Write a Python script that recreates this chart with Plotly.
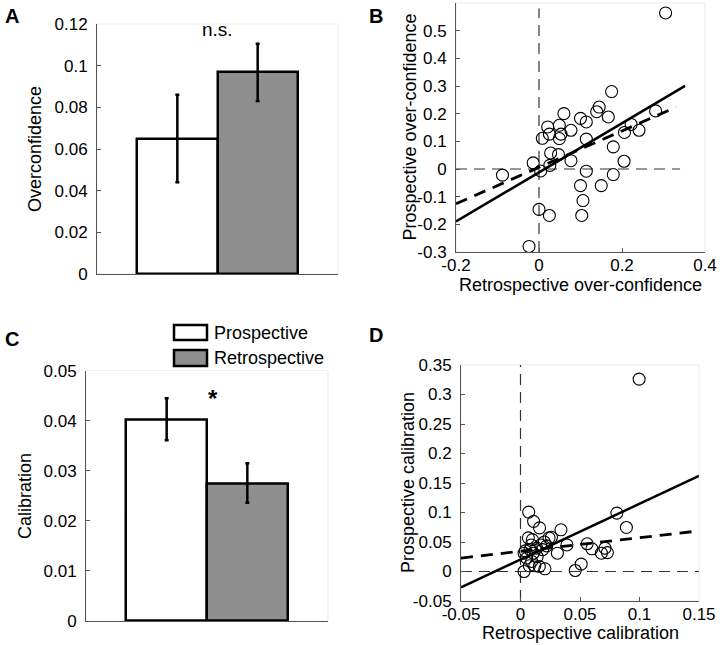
import plotly.graph_objects as go

# ---------------- data ----------------
bar_labels = ["Prospective", "Retrospective"]
bar_pos = [1, 2]
overconf_means = [0.065, 0.097]
overconf_err_hi = [0.021, 0.0135]
overconf_err_lo = [0.021, 0.014]
calib_means = [0.0402, 0.0275]
calib_err_hi = [0.0043, 0.0040]
calib_err_lo = [0.0041, 0.0039]

# Panel B scatter: retrospective (x) vs prospective (y) over-confidence
b_retro = [0.175, -0.088, -0.014, 0.004, 0.000, 0.025, -0.024, 0.008, 0.021, 0.025,
           0.049, 0.049, 0.053, 0.060, 0.077, 0.028, 0.047, 0.026, 0.077, 0.100,
           0.114, 0.114, 0.114, 0.100, 0.106, 0.103, 0.145, 0.139, 0.167, 0.150,
           0.179, 0.179, 0.205, 0.206, 0.222, 0.241, 0.281, 0.305]
b_prosp = [0.280, -0.022, 0.022, -0.007, -0.146, -0.168, -0.280, 0.111, 0.152, 0.126,
           0.158, 0.110, 0.126, 0.200, 0.140, 0.058, 0.052, 0.013, 0.030, 0.183,
           0.170, 0.108, -0.008, -0.060, -0.114, -0.168, 0.224, 0.207, 0.188, -0.060,
           0.080, -0.020, 0.028, 0.132, 0.161, 0.140, 0.210, 0.564]
b_fit_solid = (0.888, -0.012)   # slope, intercept
b_fit_dashed = (0.658, 0.006)
b_fit_x = [-0.2, 0.352]
b_fit_dx = [-0.2, 0.330]
b_zero_h = [-0.2, 0.34]
b_zero_v = [-0.3, 0.58]

# Panel D scatter: retrospective (x) vs prospective (y) calibration
d_retro = [0.0069, 0.011, 0.016, 0.034, 0.026, 0.0066, 0.010, 0.039, 0.056, 0.060,
           0.071, 0.068, 0.073, 0.081, 0.089, 0.031, 0.051, 0.046, 0.0205, 0.003,
           0.003, 0.008, 0.0136, 0.0186, 0.022, 0.0052, 0.0094, 0.012, 0.0074, 0.0158,
           0.0107, 0.017, 0.024, 0.0997, 0.004, 0.014, 0.020, 0.009]
d_prosp = [0.1007, 0.085, 0.074, 0.0707, 0.058, 0.057, 0.054, 0.045, 0.047, 0.0385,
           0.0396, 0.031, 0.032, 0.099, 0.0746, 0.031, 0.0125, 0.0017, 0.0046, 0.000,
           0.031, 0.037, 0.0397, 0.037, 0.0435, 0.0227, 0.017, 0.0097, 0.0097, 0.0085,
           0.031, 0.045, 0.057, 0.326, 0.035, 0.025, 0.050, 0.045]
d_fit_solid = (0.945, 0.0203)
d_fit_dashed = (0.23, 0.0343)
d_fit_x = [-0.05, 0.15]
d_zero_h = [-0.05, 0.15]
d_zero_v = [-0.05, 0.35]

# tick labels
a_yticks = [0, 0.02, 0.04, 0.06, 0.08, 0.1, 0.12]
b_xticks = [-0.2, 0, 0.2, 0.4]
b_yticks = [-0.3, -0.2, -0.1, 0, 0.1, 0.2, 0.3, 0.4, 0.5]
c_yticks = [0, 0.01, 0.02, 0.03, 0.04, 0.05]
d_xticks = [-0.05, 0, 0.05, 0.1, 0.15]
d_yticks = [-0.05, 0, 0.05, 0.1, 0.15, 0.2, 0.25, 0.3, 0.35]

# ---------------- styling ----------------
W, H = 720, 645
FONT = "Liberation Sans, Arial, sans-serif"
TICK_SIZE = 17
TITLE_SIZE = 18
AXCOL = "#555555"
BAR_COLORS = ["#ffffff", "#8e8e8e"]


def lbl(v):
    return "%g" % v


def px_x(p):
    return p / W


def px_y(p):
    return 1 - p / H


fig = go.Figure()

# ---- Panel A bars ----
fig.add_trace(go.Bar(
    x=bar_pos, y=overconf_means, width=1,
    marker=dict(color=BAR_COLORS, line=dict(color="black", width=2.5)),
    error_y=dict(type="data", symmetric=False, array=overconf_err_hi,
                 arrayminus=overconf_err_lo, color="black", thickness=2.5, width=2),
    xaxis="x", yaxis="y", showlegend=False))

# ---- Panel C bars ----
fig.add_trace(go.Bar(
    x=bar_pos, y=calib_means, width=1,
    marker=dict(color=BAR_COLORS, line=dict(color="black", width=2.5)),
    error_y=dict(type="data", symmetric=False, array=calib_err_hi,
                 arrayminus=calib_err_lo, color="black", thickness=2.5, width=2),
    xaxis="x3", yaxis="y3", showlegend=False))

dash_ref = dict(color="#333333", width=1.2, dash="11px,7px")


def add_scatter_panel(xa, ya, xs, ys, fit_s, fit_d, fx, fdx, zh, zv):
    fig.add_trace(go.Scatter(x=zh, y=[0, 0], mode="lines", line=dash_ref,
                             xaxis=xa, yaxis=ya, showlegend=False, hoverinfo="skip"))
    fig.add_trace(go.Scatter(x=[0, 0], y=zv, mode="lines", line=dash_ref,
                             xaxis=xa, yaxis=ya, showlegend=False, hoverinfo="skip"))
    m, b = fit_s
    fig.add_trace(go.Scatter(x=fx, y=[m * v + b for v in fx], mode="lines",
                             line=dict(color="black", width=2.5),
                             xaxis=xa, yaxis=ya, showlegend=False))
    m, b = fit_d
    fig.add_trace(go.Scatter(x=fdx, y=[m * v + b for v in fdx], mode="lines",
                             line=dict(color="black", width=2.8, dash="12px,8px"),
                             xaxis=xa, yaxis=ya, showlegend=False))
    fig.add_trace(go.Scatter(x=xs, y=ys, mode="markers",
                             marker=dict(symbol="circle-open", size=12,
                                         color="black", line=dict(width=1.1)),
                             xaxis=xa, yaxis=ya, showlegend=False))


add_scatter_panel("x2", "y2", b_retro, b_prosp, b_fit_solid, b_fit_dashed,
                  b_fit_x, b_fit_dx, b_zero_h, b_zero_v)
add_scatter_panel("x4", "y4", d_retro, d_prosp, d_fit_solid, d_fit_dashed,
                  d_fit_x, d_fit_x, d_zero_h, d_zero_v)

tickfont = dict(family=FONT, size=TICK_SIZE, color="black")
titlefont = dict(family=FONT, size=TITLE_SIZE, color="black")


def yax(domain, rng, ticks, anchor):
    return dict(domain=domain, range=rng, tickvals=ticks, ticktext=[lbl(t) for t in ticks],
                ticks="inside", ticklen=4, tickcolor=AXCOL, showline=True, linecolor=AXCOL,
                linewidth=1, showgrid=False, zeroline=False, tickfont=tickfont,
                ticklabelstandoff=5, anchor=anchor, automargin=False)


def xax_bar(domain, anchor):
    return dict(domain=domain, range=[0, 3], showticklabels=False, ticks="", showline=True,
                linecolor=AXCOL, linewidth=1, showgrid=False, zeroline=False, anchor=anchor)


def xax(domain, rng, ticks, anchor):
    return dict(domain=domain, range=rng, tickvals=ticks, ticktext=[lbl(t) for t in ticks],
                ticks="inside", ticklen=4, tickcolor=AXCOL, showline=True, linecolor=AXCOL,
                linewidth=1, showgrid=False, zeroline=False, tickfont=tickfont, anchor=anchor,
                ticklabelstandoff=-2, ticklabeloverflow="allow", automargin=False)


A_x = [px_x(97), px_x(338)]
A_y = [px_y(274), px_y(24)]
B_x = [px_x(456), px_x(705)]
B_y = [px_y(252), px_y(3)]
C_x = [px_x(86), px_x(328)]
C_y = [px_y(621), px_y(370.7)]
D_x = [px_x(461), px_x(699)]
D_y = [px_y(601), px_y(365)]

fig.update_layout(
    width=W, height=H, margin=dict(l=0, r=0, t=0, b=0),
    paper_bgcolor="white", plot_bgcolor="white",
    font=dict(family=FONT, color="black"),
    bargap=0,
    xaxis=xax_bar(A_x, "y"),
    yaxis=yax(A_y, [0, 0.12], a_yticks, "x"),
    xaxis2=xax(B_x, [-0.2, 0.4], b_xticks, "y2"),
    yaxis2=yax(B_y, [-0.3, 0.6], b_yticks, "x2"),
    xaxis3=xax_bar(C_x, "y3"),
    yaxis3=yax(C_y, [0, 0.05], c_yticks, "x3"),
    xaxis4=xax(D_x, [-0.05, 0.15], d_xticks, "y4"),
    yaxis4=yax(D_y, [-0.05, 0.35], d_yticks, "x4"),
)

# faint box outlines (top/right)
shapes = []
for xr, yr in [("x", "y"), ("x2", "y2"), ("x3", "y3"), ("x4", "y4")]:
    shapes.append(dict(type="rect", xref=xr + " domain", yref=yr + " domain",
                       x0=0, x1=1, y0=0, y1=1, line=dict(color="#ececec", width=1),
                       layer="below"))

# legend in panel C
leg_boxes = [(325, 340), (350, 366)]
for (y0, y1), col in zip(leg_boxes, BAR_COLORS):
    shapes.append(dict(type="rect", xref="paper", yref="paper",
                       x0=px_x(174), x1=px_x(207), y0=px_y(y1), y1=px_y(y0),
                       fillcolor=col, line=dict(color="black", width=2.5)))
fig.update_layout(shapes=shapes)

ann = []
for (y0, y1), name in zip(leg_boxes, bar_labels):
    ann.append(dict(x=px_x(212), y=px_y((y0 + y1) / 2), xref="paper", yref="paper",
                    text=name, showarrow=False, xanchor="left", yanchor="middle",
                    font=dict(family=FONT, size=18, color="black")))

# axis titles
titles = [
    ("Overconfidence", 35, 149, -90),
    ("Prospective over-confidence", 409, 127.5, -90),
    ("Retrospective over-confidence", 580.5, 285, 0),
    ("Calibration", 25, 496, -90),
    ("Prospective calibration", 408, 483, -90),
    ("Retrospective calibration", 580, 633, 0),
]
for text, x, y, ang in titles:
    ann.append(dict(x=px_x(x), y=px_y(y), xref="paper", yref="paper", text=text,
                    textangle=ang, showarrow=False, xanchor="center", yanchor="middle",
                    font=titlefont))

# significance labels
ann.append(dict(x=1.5, y=0.1176, xref="x", yref="y", text="n.s.", showarrow=False,
                xanchor="center", yanchor="middle", font=dict(family=FONT, size=19)))
ann.append(dict(x=1.58, y=0.0444, xref="x3", yref="y3", text="<b>*</b>", showarrow=False,
                xanchor="center", yanchor="middle", font=dict(family=FONT, size=24)))

# panel letters
for letter, x, y in [("A", 12, 16), ("B", 376, 16), ("C", 12, 339), ("D", 376, 335)]:
    ann.append(dict(x=px_x(x), y=px_y(y), xref="paper", yref="paper", text="<b>%s</b>" % letter,
                    showarrow=False, xanchor="center", yanchor="middle",
                    font=dict(family=FONT, size=20, color="black")))
fig.update_layout(annotations=ann)

fig.write_html("out.html", config={"displayModeBar": False},
               post_script="document.body.style.margin='0px';")
